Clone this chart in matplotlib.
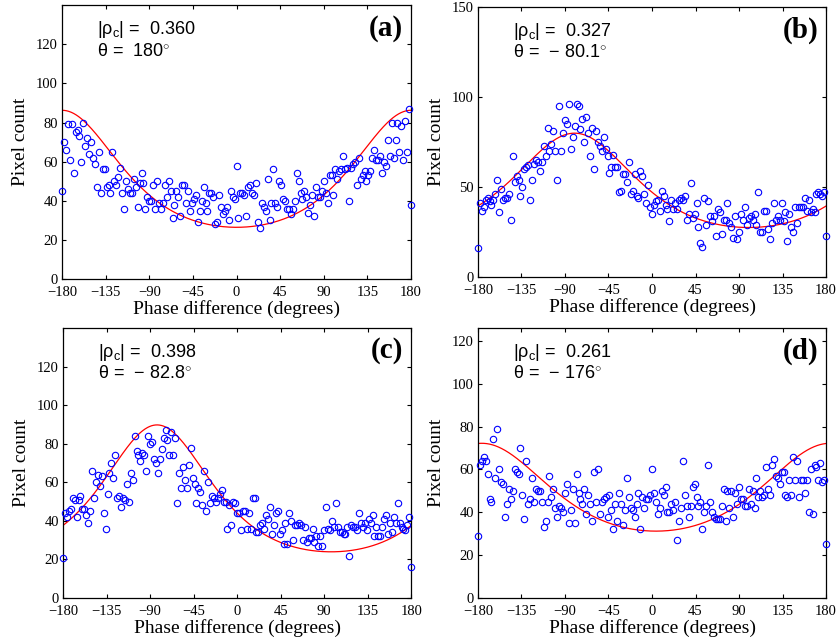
import numpy as np
import matplotlib
matplotlib.use('Agg')
from matplotlib import pyplot as plt

# Histogram counts, 2 degree bins from -180 to 180 (end bins are half width)
counts_a = [45, 70, 66, 79, 61, 79, 54, 75, 76, 73, 60, 80, 68, 72, 64, 70, 62, 59, 47, 65,
            44, 56, 56, 47, 48, 44, 65, 50, 48, 52, 57, 44, 36, 50, 46, 44, 44, 51, 47, 37,
            49, 54, 49, 36, 42, 40, 40, 48, 36, 50, 39, 36, 39, 48, 42, 50, 45, 31, 38, 45,
            42, 32, 48, 48, 39, 45, 35, 39, 41, 43, 29, 35, 40, 47, 39, 35, 44, 44, 42, 28,
            29, 43, 37, 33, 35, 37, 30, 45, 42, 41, 58, 31, 44, 44, 43, 32, 47, 48, 44, 43,
            49, 29, 26, 39, 37, 35, 51, 30, 39, 56, 39, 37, 50, 48, 41, 40, 36, 36, 33, 36,
            40, 54, 50, 44, 41, 45, 42, 34, 38, 43, 32, 47, 42, 42, 45, 50, 44, 39, 53, 53,
            43, 56, 51, 55, 56, 63, 56, 57, 40, 57, 59, 60, 48, 62, 51, 53, 55, 50, 53, 55,
            62, 66, 61, 61, 63, 54, 60, 58, 71, 63, 80, 62, 71, 80, 65, 78, 61, 81, 65, 87,
            38]
counts_b = [16, 41, 37, 39, 43, 44, 42, 40, 43, 46, 54, 36, 49, 43, 44, 44, 46, 32, 67, 53,
            56, 54, 45, 50, 60, 61, 62, 43, 54, 63, 65, 64, 59, 64, 73, 67, 83, 70, 74, 81,
            70, 54, 95, 70, 80, 87, 85, 96, 71, 78, 84, 96, 95, 82, 88, 75, 89, 80, 67, 83,
            60, 81, 75, 73, 70, 78, 71, 67, 58, 61, 68, 61, 61, 47, 48, 57, 57, 53, 64, 46,
            48, 57, 45, 44, 59, 56, 46, 41, 51, 39, 35, 40, 42, 43, 37, 48, 45, 40, 38, 31,
            43, 38, 41, 38, 43, 44, 43, 45, 32, 35, 52, 33, 35, 41, 28, 19, 17, 44, 29, 42,
            34, 31, 34, 23, 38, 36, 24, 32, 32, 41, 30, 28, 22, 34, 21, 25, 35, 32, 39, 29,
            33, 34, 32, 35, 29, 47, 25, 25, 37, 37, 27, 21, 30, 41, 32, 34, 32, 41, 31, 36,
            20, 35, 28, 25, 39, 30, 39, 39, 39, 44, 37, 43, 36, 38, 36, 46, 47, 46, 45, 47,
            23]
counts_c = [21, 44, 42, 45, 46, 52, 51, 42, 51, 53, 46, 46, 43, 39, 45, 66, 52, 60, 64, 58,
            63, 44, 36, 54, 65, 70, 62, 74, 52, 53, 47, 52, 51, 59, 50, 65, 61, 84, 76, 74,
            71, 75, 74, 66, 84, 80, 81, 72, 70, 65, 72, 77, 83, 87, 82, 74, 86, 74, 83, 49,
            65, 57, 68, 61, 57, 69, 78, 62, 59, 49, 57, 55, 48, 66, 45, 60, 49, 53, 52, 50,
            52, 54, 56, 50, 50, 36, 48, 38, 50, 49, 44, 44, 35, 45, 45, 36, 44, 36, 52, 52,
            34, 34, 38, 39, 36, 43, 41, 47, 33, 38, 44, 45, 33, 35, 28, 39, 28, 44, 40, 30,
            38, 38, 39, 38, 30, 37, 29, 31, 31, 36, 29, 32, 27, 32, 27, 35, 47, 36, 35, 40,
            37, 49, 37, 34, 34, 33, 33, 37, 22, 38, 37, 37, 35, 44, 39, 37, 39, 35, 41, 39,
            43, 32, 37, 32, 32, 37, 41, 43, 33, 39, 34, 42, 39, 49, 39, 37, 36, 35, 38, 42,
            16]
counts_d = [29, 62, 64, 66, 64, 58, 46, 45, 74, 56, 79, 60, 54, 53, 38, 44, 51, 46, 50, 60,
            59, 58, 70, 48, 37, 64, 44, 46, 56, 45, 51, 50, 50, 45, 33, 36, 45, 57, 47, 51,
            42, 38, 43, 42, 40, 49, 53, 35, 41, 51, 35, 58, 49, 46, 44, 51, 39, 48, 44, 36,
            59, 45, 60, 39, 45, 46, 47, 38, 48, 41, 32, 44, 36, 49, 44, 34, 41, 56, 47, 42,
            41, 38, 44, 49, 32, 47, 42, 46, 46, 48, 60, 49, 45, 39, 42, 50, 48, 52, 40, 40,
            44, 41, 45, 27, 36, 42, 64, 48, 43, 38, 43, 52, 53, 47, 43, 45, 32, 40, 43, 62,
            45, 40, 38, 37, 37, 37, 43, 51, 36, 50, 42, 50, 38, 49, 44, 52, 46, 46, 43, 43,
            51, 44, 50, 42, 56, 47, 50, 47, 48, 61, 51, 48, 62, 65, 57, 56, 53, 59, 59, 48,
            47, 55, 48, 66, 55, 64, 47, 55, 55, 49, 55, 40, 60, 39, 62, 61, 55, 63, 54, 55,
            25]

rho_vals = [0.360, 0.327, 0.398, 0.261]
theta_vals = [180, -80.1, -82.8, -176]
rho_text = ['0.360', '0.327', '0.398', '0.261']
theta_text = ['180', '\u2212 80.1', '\u2212 82.8', '\u2212 176']
panel_names = ['(a)', '(b)', '(c)', '(d)']
ylims = [140, 150, 140, 126]
yticks = [np.arange(0, 121, 20), np.arange(0, 151, 50), np.arange(0, 121, 20), np.arange(0, 121, 20)]
xticks = [-180, -135, -90, -45, 0, 45, 90, 135, 180]
xticklabels = ['\u2212180', '\u2212135', '\u221290', '\u221245', '0', '45', '90', '135', '180']

all_counts = [counts_a, counts_b, counts_c, counts_d]

# axes boxes in figure fraction [left, bottom, width, height]
boxes = [[0.0741, 0.564, 0.417, 0.428],
         [0.571, 0.567, 0.416, 0.422],
         [0.0753, 0.0656, 0.416, 0.422],
         [0.571, 0.0656, 0.416, 0.422]]

plt.rcParams['font.family'] = ['Liberation Serif', 'DejaVu Serif']
plt.rcParams['mathtext.fontset'] = 'custom'
plt.rcParams['mathtext.rm'] = 'Liberation Sans'


def phase_pdf(phi_deg, rho, theta_deg):
    # phase difference distribution of a correlated complex gaussian pair
    beta = rho * np.cos(np.radians(phi_deg - theta_deg))
    s = np.sqrt(1 - beta**2)
    return (1 - rho**2) / (1 - beta**2) * (1 + beta / s * (np.pi / 2 + np.arcsin(beta)))


fig = plt.figure(figsize=(8.37, 6.4), dpi=100)

for i in range(4):
    ax = fig.add_axes(boxes[i])
    counts = np.array(all_counts[i], dtype=float)
    phase = np.linspace(-180, 180, len(counts))
    # mean count per full bin (end bins are halves)
    k = counts.sum() / (len(counts) - 1)
    phi = np.linspace(-180, 180, 721)
    ax.plot(phi, k * phase_pdf(phi, rho_vals[i], theta_vals[i]), color='red', lw=0.9, zorder=2)
    ax.plot(phase, counts, 'o', mfc='none', mec='blue', ms=4.6, mew=0.8, zorder=3, clip_on=False)

    ax.set_xlim(-180, 180)
    ax.set_ylim(0, ylims[i])
    ax.set_xticks(xticks)
    ax.set_xticklabels(xticklabels)
    ax.set_yticks(yticks[i])
    ax.tick_params(direction='in', top=True, right=True, length=3, width=0.8, labelsize=10.5)
    ax.tick_params(axis='x', pad=5)
    ax.tick_params(axis='y', pad=3)
    for sp in ax.spines.values():
        sp.set_linewidth(0.9)
    ax.set_xlabel('Phase difference (degrees)', fontsize=14, labelpad=0.5)
    ax.set_ylabel('Pixel count', fontsize=14, labelpad=5)

    ax.text(0.10, 0.91, '|\u03c1$_\\mathregular{c}$| =  ' + rho_text[i], transform=ax.transAxes,
            family=['Liberation Sans', 'DejaVu Sans'], fontsize=13, va='center', ha='left')
    ax.text(0.10, 0.83, '\u03b8 =  ' + theta_text[i] + '$^{\\circ}$', transform=ax.transAxes,
            family=['Liberation Sans', 'DejaVu Sans'], fontsize=13, va='center', ha='left')
    ax.text(0.978, 0.915, panel_names[i], transform=ax.transAxes, fontsize=21,
            fontweight='bold', va='center', ha='right')

fig.savefig('out.png', dpi=100)
